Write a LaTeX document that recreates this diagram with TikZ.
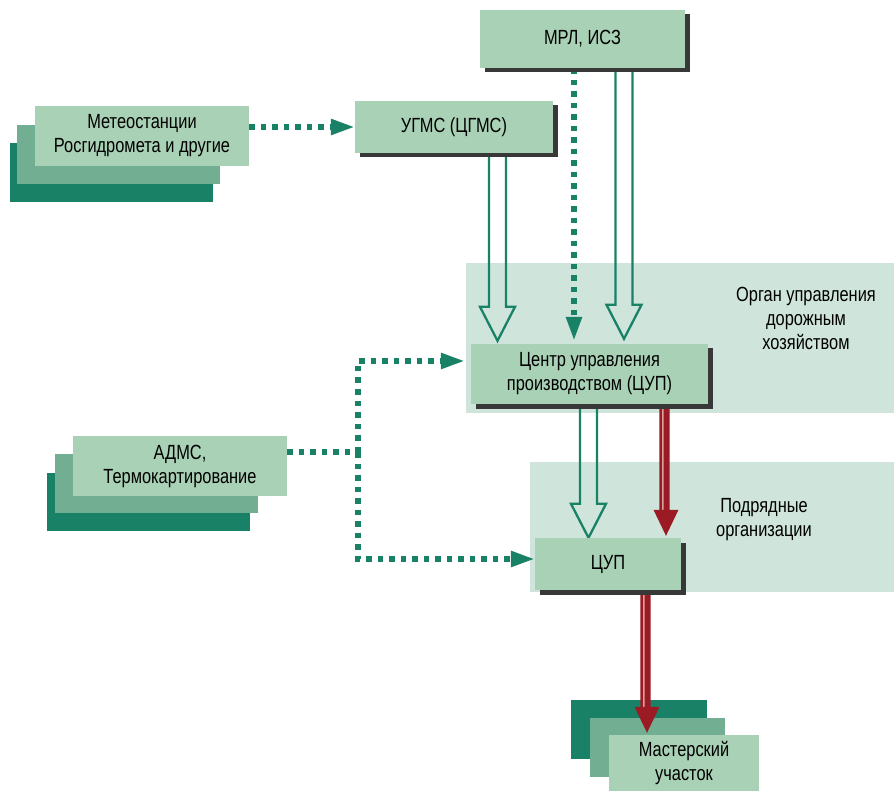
\documentclass[tikz,border=0pt]{standalone}
\usepackage{fontspec}
\setmainfont{Liberation Sans}[FakeStretch=0.8]
\usetikzlibrary{arrows.meta,shadows,calc}
\definecolor{boxg}{HTML}{A9D1B5}
\definecolor{midg}{HTML}{72AF92}
\definecolor{darkg}{HTML}{188166}
\definecolor{regiong}{HTML}{CFE5DB}
\definecolor{shadowc}{HTML}{383838}
\definecolor{redc}{HTML}{9B1B24}
\definecolor{redlight}{HTML}{D9A0A0}
\newcommand\dlabelfont{\fontsize{20.5}{24}\selectfont}
\pgfdeclarelayer{bg}\pgfdeclarelayer{mid}\pgfsetlayers{bg,mid,main}
\newcommand\hollowarr[4]{%
  \draw[hollowline] let \p1=(#2), \p2=(#3) in
    ({(#1-8.5)*1pt},\y1) -- ({(#1-8.5)*1pt},{\y2+#4pt+34pt}) -- ({(#1-17.5)*1pt},{\y2+#4pt+34pt})
    -- ({#1*1pt},{\y2+#4pt}) -- ({(#1+17.5)*1pt},{\y2+#4pt+34pt}) -- ({(#1+8.5)*1pt},{\y2+#4pt+34pt})
    -- ({(#1+8.5)*1pt},\y1);}
\newcommand\redarr[3]{%
  \fill[redlight] let \p1=(#2), \p2=(#3) in
    ({(#1-4.5)*1pt},\y1) rectangle ({(#1-2.5)*1pt},{\y2+28pt});
  \fill[redc] let \p1=(#2), \p2=(#3) in
    ({(#1-6.75)*1pt},\y1) rectangle ({(#1-4.25)*1pt},{\y2+27pt})
    ({(#1-2.5)*1pt},\y1) rectangle ({(#1+3.5)*1pt},{\y2+27pt})
    ({(#1-12.5)*1pt},{\y2+28pt}) -- ({#1*1pt},{\y2+2pt}) -- ({(#1+12.5)*1pt},{\y2+28pt}) -- cycle;}
\begin{document}
\begin{tikzpicture}[x=1pt,y=-1pt,
  box/.style={fill=boxg, inner sep=0pt, align=center, font=\dlabelfont,
    general shadow={fill=shadowc, shadow xshift=4.5pt, shadow yshift=-4.5pt}},
  flatbox/.style={fill=boxg, inner sep=0pt, align=center, font=\dlabelfont},
  region/.style={fill=regiong},
  regionlabel/.style={font=\dlabelfont, align=center, inner sep=0pt},
  dots/.style={draw=darkg, line width=5.5pt, dash pattern=on 5.5pt off 6pt},
  dotarrow/.style={dots, -{Triangle[length=24pt,width=15pt]}},
  hollowline/.style={draw=darkg, line width=2.3pt, line join=miter},
]
\useasboundingbox (0,0) rectangle (894,791);

% nodes
\node[box, minimum width=205pt, minimum height=58pt] (mrl) at (582.5,39) {МРЛ, ИСЗ};
\node[box, minimum width=198pt, minimum height=52pt] (ugms) at (454,127) {УГМС (ЦГМС)};
\node[flatbox, minimum width=214pt, minimum height=60pt] (meteo) at (142,136) {Метеостанции\\Росгидромета и другие};
\node[box, minimum width=237pt, minimum height=60pt] (center) at (589.5,374) {Центр управления\\производством (ЦУП)};
\node[box, minimum width=146pt, minimum height=52pt] (cup) at (608,564) {ЦУП};
\node[flatbox, minimum width=214pt, minimum height=60pt] (adms) at (180,466) {АДМС,\\Термокартирование};
\node[flatbox, minimum width=150pt, minimum height=56pt] (master) at (684,763) {Мастерский\\участок};
\node[regionlabel] (organlbl) at (806,318) {Орган управления\\дорожным\\хозяйством};
\node[regionlabel] (podrlbl) at (764,520) {Подрядные\\организации};

\begin{pgfonlayer}{bg}
  \fill[region] (466,263) rectangle (894,413);
  \fill[region] (530,462) rectangle (894,592);
  % stacks
  \fill[darkg] (10,143) rectangle (213,202);
  \fill[midg] (17,125) rectangle (220,184);
  \fill[darkg] (47,473) rectangle (250,531);
  \fill[midg] (55,454) rectangle (258,513);
  \fill[darkg] (571,700) rectangle (707,759);
  \fill[midg] (590,718) rectangle (725,777);
\end{pgfonlayer}

\begin{pgfonlayer}{mid}
  \draw[dotarrow] (meteo.east |- ugms.west) -- (ugms.west);
  \draw[dotarrow] (mrl.south -| 574,0) -- ([yshift=3pt]center.north -| 574,0);
  \coordinate (j) at (358,452);
  \draw[dots] (adms.east |- j) -- (j);
  \draw[dotarrow] (j) |- ([xshift=-6pt,yshift=13pt]center.west);
  \draw[dotarrow] (j) |- ([yshift=5pt]cup.west);
  \hollowarr{497.5}{ugms.south}{center.north}{3}
  \hollowarr{624}{mrl.south}{center.north}{5}
  \hollowarr{588.5}{center.south}{cup.north}{0}
  \redarr{666}{center.south}{cup.north}
  \redarr{647}{cup.south}{master.north}
\end{pgfonlayer}
\end{tikzpicture}
\end{document}
